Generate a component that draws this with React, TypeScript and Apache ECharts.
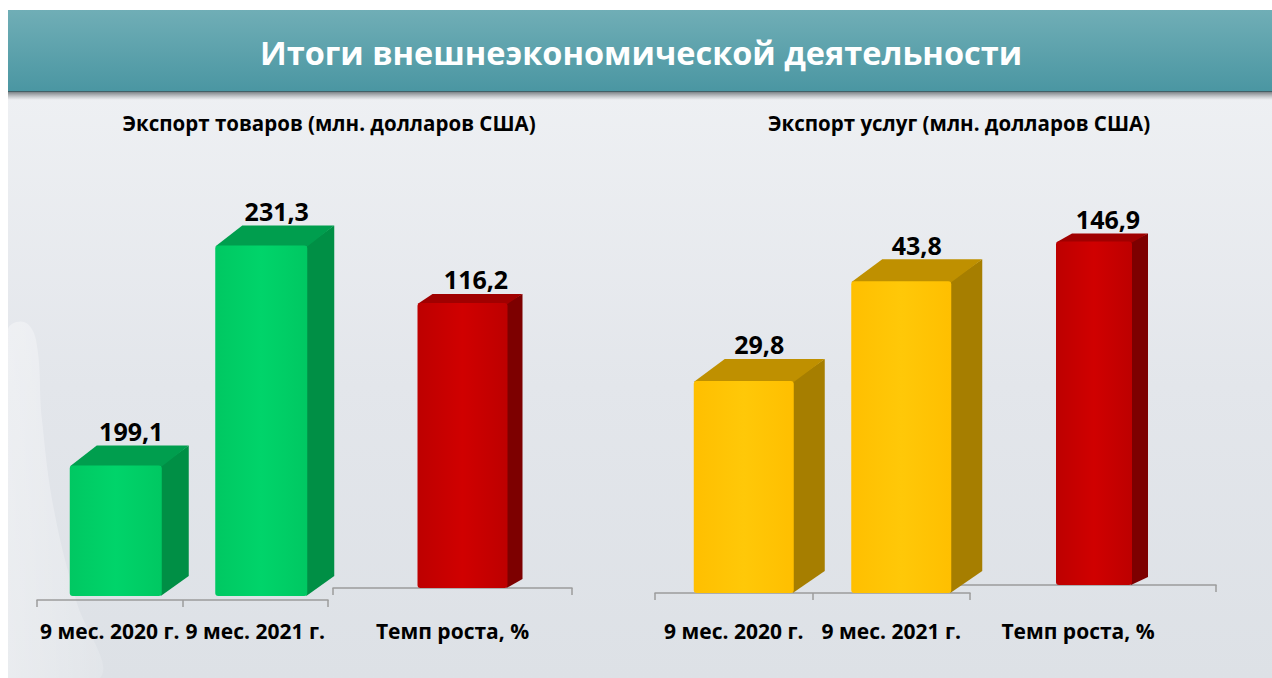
import React, { useEffect, useRef } from "react";
import * as echarts from "echarts";

const titleText = "Итоги внешнеэкономической деятельности";
const goodsTitle = "Экспорт товаров (млн. долларов США)";
const servicesTitle = "Экспорт услуг (млн. долларов США)";

const periodCategories = ["9 мес. 2020 г.", "9 мес. 2021 г."];
const growthCategory = ["Темп роста, %"];

const goodsValues = [199.1, 231.3];
const goodsGrowth = [116.2];
const servicesValues = [29.8, 43.8];
const servicesGrowth = [146.9];

const fmt = (v: number) => v.toFixed(1).replace(".", ",");
const FONT = "'Open Sans', 'Noto Sans', sans-serif";

type Palette = { front: string; frontLight: string; side: string; top: string };
const GREEN: Palette = { front: "#00c862", frontLight: "#00d46a", side: "#008f45", top: "#009e4e" };
const YELLOW: Palette = { front: "#ffbf00", frontLight: "#ffc808", side: "#a67e00", top: "#bf9000" };
const RED: Palette = { front: "#bd0000", frontLight: "#d00000", side: "#7d0000", top: "#a00000" };

function bar3d(pal: Palette, dx: number, dy: number, shift: number, width: number, labelShift: number) {
  return (params: any, api: any) => {
    const cs = params.coordSys;
    const idx = api.value(0);
    const val = api.value(1);
    const p = api.coord([idx, val]);
    const base = cs.y + cs.height;
    const x0 = p[0] + shift - width / 2;
    const x1 = x0 + width;
    const top = p[1];
    return {
      type: "group",
      children: [
        {
          type: "polygon",
          shape: { points: [[x1 - 1, top], [x1 + dx, top - dy], [x1 + dx, base - dy], [x1 - 1, base]] },
          style: { fill: pal.side },
        },
        {
          type: "polygon",
          shape: { points: [[x0, top + 1], [x0 + dx, top - dy], [x1 + dx, top - dy], [x1, top + 1]] },
          style: { fill: pal.top },
        },
        {
          type: "rect",
          shape: { x: x0, y: top, width, height: base - top, r: 3 },
          style: {
            fill: new echarts.graphic.LinearGradient(0, 0, 1, 0, [
              { offset: 0, color: pal.front },
              { offset: 0.5, color: pal.frontLight },
              { offset: 1, color: pal.front },
            ]),
          },
        },
        {
          type: "text",
          x: (x0 + x1) / 2 + dx / 2 + labelShift,
          y: top - dy - 2,
          style: {
            text: fmt(val),
            fill: "#000",
            fontSize: 25,
            fontWeight: "bold",
            fontFamily: FONT,
            align: "center",
            verticalAlign: "bottom",
          },
        },
      ],
    };
  };
}

const axisColor = "#9c9c9c";
function xAxisFor(gridIndex: number, data: string[], offset: number) {
  return {
    gridIndex,
    type: "category",
    data,
    offset,
    axisLine: { show: true, lineStyle: { color: axisColor, width: 1.5 } },
    axisTick: { show: true, interval: 0, alignWithLabel: false, length: 7, lineStyle: { color: axisColor, width: 1.5 } },
    axisLabel: {
      show: true,
      interval: 0,
      hideOverlap: false,
      color: "#000",
      fontSize: 21,
      fontWeight: "bold",
      fontFamily: FONT,
      margin: 20,
    },
  };
}

export default function App() {
  const ref = useRef<HTMLDivElement>(null);
  useEffect(() => {
    if (!ref.current) return;
    const chart = echarts.init(ref.current, null, { renderer: "svg" });
    const option: any = {
      animation: false,
      backgroundColor: "#ffffff",
      graphic: [
        {
          type: "rect",
          z: -10,
          shape: { x: 8, y: 92, width: 1264, height: 586 },
          style: {
            fill: new echarts.graphic.LinearGradient(0, 0, 0, 1, [
              { offset: 0, color: "#eef0f3" },
              { offset: 0.5, color: "#e3e6eb" },
              { offset: 1, color: "#dde1e6" },
            ]),
          },
        },
        {
          type: "polygon",
          z: -9,
          shape: {
            smooth: 0.4,
            points: [[8, 330], [24, 322], [36, 340], [42, 420], [54, 510], [76, 600], [100, 678], [8, 678]],
          },
          style: {
            fill: new echarts.graphic.LinearGradient(0, 0, 1, 0, [
              { offset: 0, color: "rgba(255,255,255,0.4)" },
              { offset: 1, color: "rgba(255,255,255,0.15)" },
            ]),
          },
        },
        {
          type: "rect",
          z: -8,
          shape: { x: 8, y: 10, width: 1264, height: 82 },
          style: {
            fill: new echarts.graphic.LinearGradient(0, 0, 0, 1, [
              { offset: 0, color: "#70aeb6" },
              { offset: 1, color: "#4a96a2" },
            ]),
          },
        },
        {
          type: "rect",
          z: -8,
          shape: { x: 8, y: 91, width: 1264, height: 9 },
          style: {
            fill: new echarts.graphic.LinearGradient(0, 0, 0, 1, [
              { offset: 0, color: "rgba(60,70,75,0.75)" },
              { offset: 1, color: "rgba(120,125,130,0)" },
            ]),
          },
        },
        {
          type: "text",
          x: 641,
          y: 52,
          style: {
            text: titleText,
            fill: "#ffffff",
            fontSize: 32.5,
            fontWeight: "bold",
            fontFamily: FONT,
            align: "center",
            verticalAlign: "middle",
          },
        },
        {
          type: "text",
          x: 329,
          y: 123,
          style: {
            text: goodsTitle,
            fill: "#000",
            fontSize: 20.5,
            fontWeight: "bold",
            fontFamily: FONT,
            align: "center",
            verticalAlign: "middle",
          },
        },
        {
          type: "text",
          x: 959,
          y: 123,
          style: {
            text: servicesTitle,
            fill: "#000",
            fontSize: 20.5,
            fontWeight: "bold",
            fontFamily: FONT,
            align: "center",
            verticalAlign: "middle",
          },
        },
      ],
      grid: [
        { left: 37, top: 186, width: 291, height: 410 },
        { left: 333, top: 220, width: 239, height: 368 },
        { left: 655, top: 166, width: 315, height: 427 },
        { left: 940, top: 211, width: 276, height: 374 },
      ],
      xAxis: [
        xAxisFor(0, periodCategories, 4),
        xAxisFor(1, growthCategory, 12),
        xAxisFor(2, periodCategories, 7),
        xAxisFor(3, growthCategory, 15),
      ],
      yAxis: [
        { gridIndex: 0, type: "value", min: 180, max: 240, show: false },
        { gridIndex: 1, type: "value", min: 0, max: 150, show: false },
        { gridIndex: 2, type: "value", min: 0, max: 60, show: false },
        { gridIndex: 3, type: "value", min: 0, max: 160, show: false },
      ],
      series: [
        {
          type: "custom",
          xAxisIndex: 0,
          yAxisIndex: 0,
          clip: false,
          renderItem: bar3d(GREEN, 27, 20, 6, 92, 2),
          data: goodsValues.map((v, i) => [i, v]),
        },
        {
          type: "custom",
          xAxisIndex: 1,
          yAxisIndex: 1,
          clip: false,
          renderItem: bar3d(RED, 15, 9, 10, 90, 6),
          data: goodsGrowth.map((v, i) => [i, v]),
        },
        {
          type: "custom",
          xAxisIndex: 2,
          yAxisIndex: 2,
          clip: false,
          renderItem: bar3d(YELLOW, 31, 22, 10, 100, 0),
          data: servicesValues.map((v, i) => [i, v]),
        },
        {
          type: "custom",
          xAxisIndex: 3,
          yAxisIndex: 3,
          clip: false,
          renderItem: bar3d(RED, 16, 8, 16, 76, 6),
          data: servicesGrowth.map((v, i) => [i, v]),
        },
      ],
    };
    chart.setOption(option);
    return () => chart.dispose();
  }, []);
  return (
    <div
      ref={ref}
      style={{ position: "absolute", left: 0, top: 0, width: 1272, height: 678 }}
    />
  );
}
